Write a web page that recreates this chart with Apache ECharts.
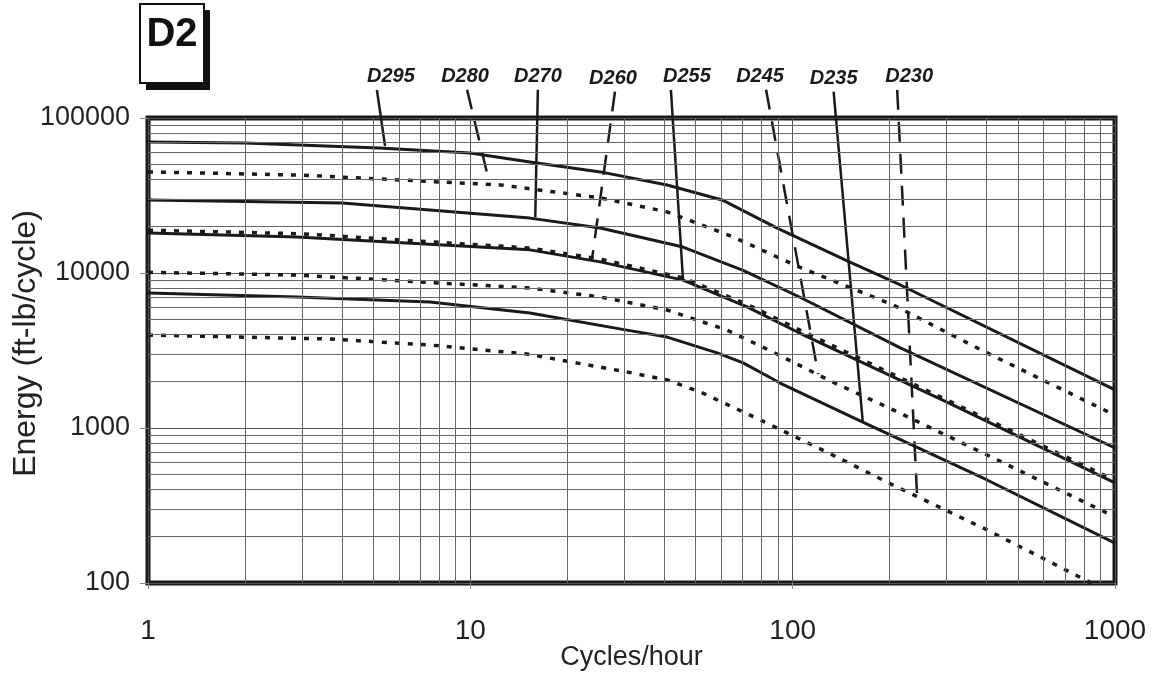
<!DOCTYPE html>
<html>
<head>
<meta charset="utf-8">
<title>D2 energy vs cycles</title>
<script src="https://cdn.jsdelivr.net/npm/echarts@6/dist/echarts.min.js"></script>
<style>
  html, body { margin: 0; padding: 0; background: #fff; }
  #chart { width: 1152px; height: 677px; }
</style>
</head>
<body>
<div id="chart"></div>
<script>
const xTicks = [1, 10, 100, 1000];
const yTicks = [100, 1000, 10000, 100000];
const minorSteps = [2, 3, 4, 5, 6, 7, 8, 9];

// [cycles/hour, ft-lb/cycle]
const d295 = [[1, 70000], [2, 69000], [5.2, 64000], [10, 59500], [15.3, 52000], [25.3, 44900], [40.8, 37000], [60.4, 29600], [89.5, 19500], [150, 11800], [215, 8400], [1000, 1760]];
const d280 = [[1, 44900], [3, 42800], [12.4, 37000], [25.3, 30500], [40.8, 24800], [65.3, 17100], [105, 10900], [205, 6220], [401, 3050], [1000, 1210]];
const d270 = [[1, 29600], [4, 28300], [15.3, 22600], [25.3, 19500], [45.7, 14700], [70.2, 10400], [105, 7000], [215, 3300], [1000, 743]];
const d260 = [[1, 18900], [3, 17900], [15.3, 14500], [25.3, 12300], [45.7, 9300], [72, 6300], [105, 4300], [300, 1520], [1000, 460]];
const d255 = [[1, 18100], [2.9, 17100], [15.3, 14100], [25.3, 11800], [45.7, 9000], [72.2, 6040], [105, 4100], [301, 1470], [1000, 442]];
const d245 = [[1, 10100], [2.9, 9700], [15.3, 8000], [25.3, 7000], [40.8, 5770], [62.6, 4280], [86.9, 3090], [133, 1980], [205, 1310], [401, 670], [1000, 267]];
const d235 = [[1, 7430], [2.9, 7000], [7.5, 6500], [15.3, 5520], [30.6, 4280], [40.8, 3860], [58.3, 3050], [70.2, 2630], [91.4, 1950], [165, 1090], [401, 462], [1000, 181]];
const d230 = [[1, 3980], [3.67, 3750], [7.5, 3430], [15, 3000], [30.6, 2300], [40.8, 2040], [51.6, 1710], [79.2, 1130], [133, 670], [205, 428], [401, 220], [837, 101], [1000, 86]];

const names = ["D295", "D280", "D270", "D260", "D255", "D245", "D235", "D230"];
const curves = [d295, d280, d270, d260, d255, d245, d235, d230];
const dotted = [false, true, false, true, false, true, false, true];

// leader lines: label end, then the point on the curve
const leaders = [
  [[5.13, 152000], [5.44, 65900]],
  [[9.77, 152000], [11.5, 37000]],
  [[16.2, 152000], [15.9, 22900]],
  [[28.1, 148000], [23.9, 12700]],
  [[41.9, 152000], [45.7, 9010]],
  [[82.7, 152000], [120, 2230]],
  [[134, 148000], [165, 1090]],
  [[211, 152000], [243, 381]],
];
const labelShift = [14, -2, 0, -2, 16, -6, 0, 12];

const chartDom = document.getElementById("chart");
const myChart = echarts.init(chartDom, null, { renderer: "canvas" });
let option;

const minorX = [];
xTicks.slice(0, -1).forEach((d) => minorSteps.forEach((m) => minorX.push(d * m)));
const minorY = [];
yTicks.slice(0, -1).forEach((d) => minorSteps.forEach((m) => minorY.push(d * m)));

const ink = "#1a1a1a";
const font = "Liberation Sans";

const curveSeries = names.map((name, i) => ({
  name: name,
  type: "line",
  data: curves[i],
  symbol: "none",
  smooth: false,
  silent: true,
  z: 3,
  lineStyle: dotted[i]
    ? { color: ink, width: 3.5, type: [5, 8], cap: "butt" }
    : { color: ink, width: 3, join: "round" },
}));

const leaderSeries = names.map((name, i) => ({
  name: name + " leader",
  type: "line",
  clip: false,
  symbol: "circle",
  symbolSize: 0,
  showSymbol: true,
  silent: true,
  z: 4,
  data: [
    {
      value: leaders[i][0],
      label: {
        show: true,
        formatter: name,
        position: "top",
        distance: 3,
        offset: [labelShift[i], 0],
        fontFamily: font,
        fontSize: 20,
        fontWeight: "bold",
        fontStyle: "italic",
        color: ink,
      },
    },
    { value: leaders[i][1] },
  ],
  lineStyle: { color: ink, width: 2.5, type: dotted[i] ? [20, 12] : "solid" },
}));

option = {
  animation: false,
  backgroundColor: "#fff",
  grid: {
    left: 148,
    right: 37,
    top: 118,
    bottom: 94,
    outerBoundsMode: "none",
    containLabel: false,
    show: true,
    borderWidth: 5,
    borderColor: ink,
    backgroundColor: "transparent",
  },
  xAxis: {
    type: "log",
    logBase: 10,
    min: 1,
    max: 1000,
    name: "Cycles/hour",
    nameLocation: "middle",
    nameGap: 61,
    nameMoveOverlap: false,
    nameTextStyle: { fontFamily: font, fontSize: 27, color: "#222" },
    axisLine: { show: false },
    axisTick: { show: true, length: 6, lineStyle: { color: "#888" } },
    axisLabel: {
      margin: 34,
      fontFamily: font,
      fontSize: 28,
      color: "#222",
      formatter: (v) => String(Math.round(v)),
    },
    splitLine: { show: true, lineStyle: { color: "#555", width: 1 } },
  },
  yAxis: {
    type: "log",
    logBase: 10,
    min: 100,
    max: 100000,
    name: "Energy (ft-lb/cycle)",
    nameLocation: "middle",
    nameRotate: 90,
    nameGap: 106,
    nameMoveOverlap: false,
    nameTextStyle: { fontFamily: font, fontSize: 32, color: "#222", padding: [0, 0, 0, 14] },
    axisLine: { show: false },
    axisTick: { show: true, length: 8, lineStyle: { color: "#888" } },
    axisLabel: {
      margin: 18,
      fontFamily: font,
      fontSize: 27,
      color: "#222",
      formatter: (v) => String(Math.round(v)),
    },
    splitLine: { show: true, lineStyle: { color: "#555", width: 1 } },
  },
  graphic: [
    { type: "rect", shape: { x: 146, y: 10, width: 64, height: 80 }, style: { fill: "#111" } },
    { type: "rect", shape: { x: 140, y: 4, width: 64, height: 79 }, style: { fill: "#fff", stroke: "#111", lineWidth: 2 } },
    {
      type: "text",
      x: 172,
      y: 35,
      style: { text: "D2", font: "bold 40px 'Liberation Sans'", fill: "#111", align: "center", verticalAlign: "middle" },
    },
  ],
  series: [
    {
      name: "grid",
      type: "line",
      data: [],
      silent: true,
      z: 1,
      markLine: {
        symbol: "none",
        silent: true,
        animation: false,
        label: { show: false },
        lineStyle: { color: "#666", width: 1, type: "solid" },
        emphasis: { disabled: true },
        data: [...minorX.map((v) => ({ xAxis: v })), ...minorY.map((v) => ({ yAxis: v }))],
      },
    },
    ...curveSeries,
    ...leaderSeries,
  ],
};

option && myChart.setOption(option);
</script>
</body>
</html>
